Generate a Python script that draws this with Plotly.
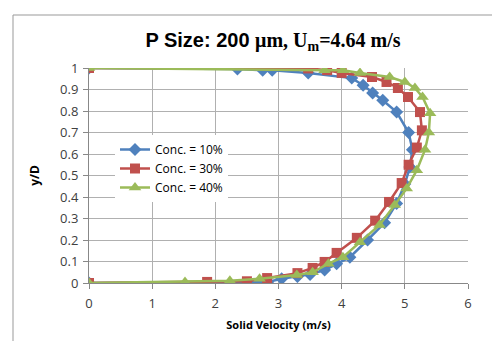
import plotly.graph_objects as go

series_names = ["Conc. = 10%", "Conc. = 30%", "Conc. = 40%"]

vel_10 = [0, 2.83, 3.05, 3.3, 3.5, 3.73, 3.92, 4.13, 4.41, 4.68, 4.87, 5.0, 5.08, 5.12, 5.06, 4.87, 4.65, 4.49, 4.34, 4.16, 3.47, 2.9, 2.75, 2.35, 0]
yd_10 = [0, 0.005, 0.02, 0.03, 0.04, 0.06, 0.09, 0.12, 0.2, 0.28, 0.37, 0.46, 0.54, 0.62, 0.70, 0.795, 0.85, 0.884, 0.92, 0.953, 0.977, 0.99, 0.99, 0.995, 1.0]

vel_30 = [0, 1.87, 2.5, 2.82, 3.3, 3.54, 3.73, 3.92, 4.24, 4.53, 4.75, 4.95, 5.06, 5.19, 5.27, 5.24, 5.05, 4.89, 4.71, 4.48, 4.0, 3.77, 3.47, 0]
yd_30 = [0, 0.005, 0.008, 0.023, 0.046, 0.07, 0.098, 0.14, 0.21, 0.29, 0.377, 0.465, 0.55, 0.63, 0.71, 0.795, 0.865, 0.907, 0.935, 0.958, 0.977, 0.99, 0.998, 1.0]

vel_40 = [0, 1.52, 2.23, 2.7, 3.29, 3.54, 3.79, 4.02, 4.29, 4.6, 4.84, 5.03, 5.19, 5.32, 5.38, 5.4, 5.28, 5.16, 5.0, 4.76, 4.29, 4.02, 3.73, 0]
yd_40 = [0, 0.005, 0.01, 0.02, 0.037, 0.05, 0.09, 0.12, 0.19, 0.27, 0.363, 0.44, 0.525, 0.62, 0.70, 0.79, 0.865, 0.907, 0.935, 0.958, 0.977, 0.99, 0.99, 1.0]

x_ticks = [0, 1, 2, 3, 4, 5, 6]
y_ticks = [0, 0.1, 0.2, 0.3, 0.4, 0.5, 0.6, 0.7, 0.8, 0.9, 1]
y_tick_labels = ["0", "0.1", "0.2", "0.3", "0.4", "0.5", "0.6", "0.7", "0.8", "0.9", "1"]

colors = ["#4F81BD", "#C0504D", "#9BBB59"]
symbols = ["diamond", "square", "triangle-up"]
sizes = [10, 10, 11]

fig = go.Figure()
for name, xs, ys, c, s, sz in zip(series_names, [vel_10, vel_30, vel_40], [yd_10, yd_30, yd_40], colors, symbols, sizes):
    fig.add_trace(go.Scatter(x=xs, y=ys, name=name, mode="lines+markers",
                             line=dict(color=c, width=2.5),
                             marker=dict(symbol=s, size=sz, color=c)))

grid = "#B0B0B0"
L, R, T, B = 89, 24, 68, 58
PW, PH = 492 - L - R, 341 - T - B
fx0 = (13 - L) / PW
fy1 = (283 - 15) / PH
fig.update_layout(
    width=492, height=341,
    margin=dict(l=L, r=R, t=T, b=B, autoexpand=False),
    paper_bgcolor="white", plot_bgcolor="white",
    showlegend=True,
    title=dict(
        text="<b>P Size: 200 <span style='font-family:Liberation Serif'>μm, U<sub>m</sub>=4.64 m/s</span></b>",
        x=(273 - L) / PW, xref="paper", xanchor="center",
        y=1 - 40 / 341, yref="container", yanchor="middle",
        font=dict(family="Liberation Sans", size=20, color="black")),
    legend=dict(x=(115 - L) / PW, y=(283 - 135) / PH, xanchor="left", yanchor="top",
                bgcolor="white", borderwidth=0,
                font=dict(family="Open Sans", size=12, color="black"),
                tracegroupgap=0, itemwidth=30),
    xaxis=dict(range=[0, 6], tickvals=x_ticks, showgrid=True, gridcolor=grid, gridwidth=1,
               showline=True, linecolor="#888888", ticks="outside", ticklen=5, tickcolor="#888888",
               zeroline=False, automargin=False, ticklabelstandoff=3,
               tickfont=dict(family="Open Sans", size=13, color="#404040"),
               title=dict(text="<b>Solid Velocity (m/s)</b>", standoff=10,
                          font=dict(family="Open Sans", size=11, color="black"))),
    yaxis=dict(range=[0, 1], tickvals=y_ticks, ticktext=y_tick_labels, showgrid=True, gridcolor=grid,
               gridwidth=1, showline=True, linecolor="#888888", ticks="outside", ticklen=5,
               tickcolor="#888888", zeroline=False, automargin=False, ticklabelstandoff=2,
               tickfont=dict(family="Open Sans", size=13, color="#404040"),
               title=dict(text="<b>y/D</b>", standoff=17,
                          font=dict(family="Open Sans", size=12, color="black"))),
    shapes=[
        dict(type="rect", xref="paper", yref="paper",
             x0=fx0, x1=1.2, y0=-0.4, y1=fy1,
             line=dict(color="#999999", width=1), fillcolor="rgba(0,0,0,0)", layer="above"),
    ],
)

fig.write_html("out.html", config={"displayModeBar": False},
               post_script="document.body.style.margin='0';document.body.style.padding='0';")
